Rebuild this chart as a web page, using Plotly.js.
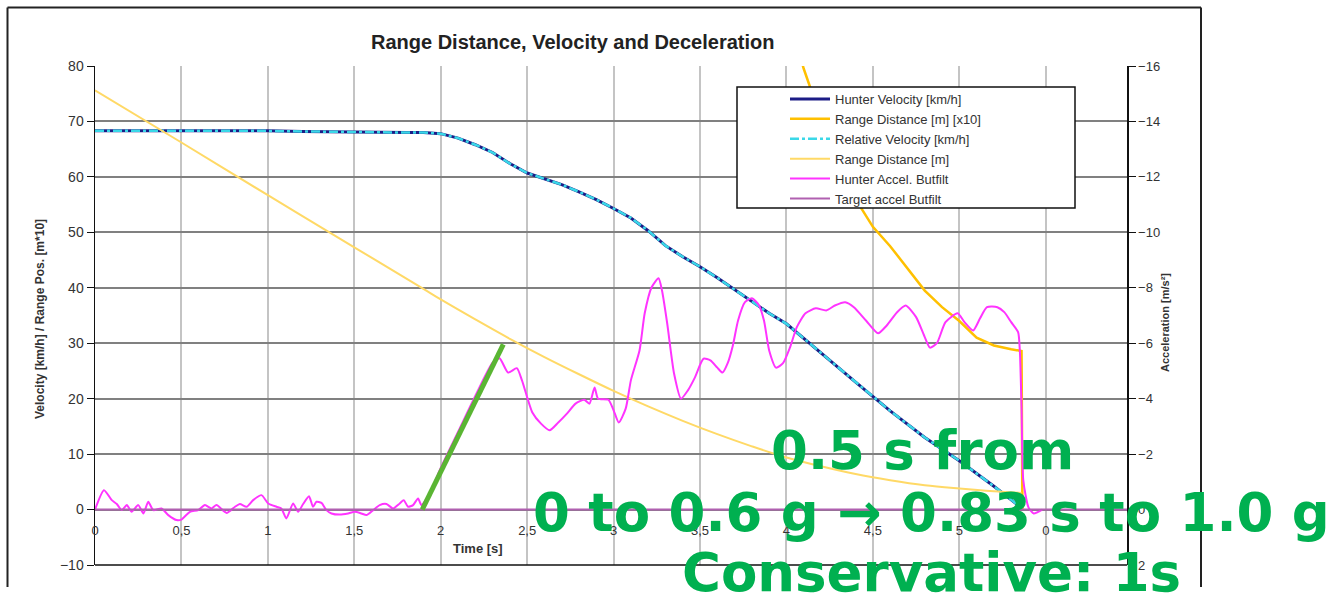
<!DOCTYPE html>
<html><head><meta charset="utf-8">
<script src="https://cdn.plot.ly/plotly-3.0.1.min.js"></script>
<style>html,body{margin:0;padding:0;background:#fff;} #chart{width:1337px;height:600px;}</style>
</head><body><div id="chart"></div>
<script>
// ---- data ----
const velTime = [0,0.2,0.4,0.6,0.8,1.0,1.2,1.4,1.6,1.8,1.9,2.0,2.1,2.2,2.3,2.4,2.5,2.6,2.7,2.8,2.9,3.0,3.1,3.2,3.3,3.4,3.5,3.6,3.7,3.8,3.9,4.0,4.2,4.4,4.6,4.8,5.0,5.2,5.36];
const hunterVelocity = [68.3,68.3,68.4,68.3,68.3,68.3,68.2,68.1,68.0,68.0,68.0,67.8,67.0,65.8,64.4,62.4,60.7,59.6,58.6,57.3,55.9,54.3,52.6,50.3,47.6,45.6,43.8,41.8,39.7,37.5,35.4,33.5,28.2,23.0,17.8,13.0,8.8,4.2,0.3];
const relativeVelocity = [68.3,68.3,68.4,68.3,68.3,68.3,68.2,68.1,68.0,68.0,68.0,67.8,67.0,65.8,64.4,62.4,60.7,59.6,58.6,57.3,55.9,54.3,52.6,50.3,47.6,45.6,43.8,41.8,39.7,37.5,35.4,33.5,28.2,23.0,17.8,13.0,8.8,4.2,0.3];

const rangeTime = [0,0.5,1.0,1.5,1.9,2.0,2.2,2.4,2.6,2.8,3.0,3.2,3.4,3.6,3.8,4.0,4.2,4.4,4.6,4.8,5.0,5.2,5.36];
const rangeDistance = [75.6,66.2,56.7,47.3,39.8,37.9,34.3,30.8,27.5,24.4,21.4,18.6,16.0,13.6,11.4,9.4,7.8,6.4,5.3,4.4,3.8,3.3,3.0];

const rangeX10Time = [4.0,4.1,4.2,4.3,4.4,4.5,4.6,4.7,4.8,4.9,5.0,5.1,5.2,5.3,5.36,5.365];
const rangeDistanceX10 = [90,79.5,70.5,62.5,56,51,47.5,43.5,39.5,36.5,34,31,29.6,28.9,28.6,0];

const accelTime = [0,0.052,0.097,0.126,0.155,0.184,0.212,0.25,0.28,0.308,0.337,0.385,0.424,0.472,0.5,0.549,0.597,0.636,0.674,0.703,0.761,0.81,0.838,0.877,0.915,0.963,1.002,1.05,1.078,1.107,1.146,1.175,1.204,1.238,1.261,1.281,1.31,1.339,1.368,1.416,1.464,1.503,1.541,1.57,1.609,1.647,1.686,1.724,1.763,1.786,1.811,1.84,1.869,1.888,1.93,2.0,2.1,2.2,2.3,2.34,2.39,2.44,2.47,2.53,2.58,2.63,2.68,2.73,2.78,2.83,2.86,2.89,2.91,2.97,3.0,3.03,3.07,3.1,3.15,3.18,3.22,3.26,3.28,3.31,3.35,3.39,3.43,3.47,3.52,3.56,3.6,3.63,3.66,3.69,3.72,3.76,3.8,3.84,3.87,3.9,3.94,3.98,4.02,4.06,4.11,4.17,4.23,4.28,4.34,4.39,4.46,4.53,4.58,4.64,4.69,4.75,4.8,4.83,4.87,4.92,4.99,5.03,5.08,5.12,5.16,5.22,5.26,5.3,5.34,5.35,5.36,5.37,5.4,5.43,5.48];
const hunterAccel = [0,-0.70,-0.34,-0.20,0.02,-0.16,0.08,-0.16,0.14,-0.28,0.02,-0.04,0.20,0.38,0.36,0.08,0.02,-0.16,-0.04,-0.16,0.12,-0.10,-0.20,-0.10,-0.34,-0.52,-0.22,-0.10,-0.04,0.32,-0.22,0.08,-0.20,-0.48,-0.10,-0.28,-0.24,0.02,0.14,0.18,0.14,0.08,0.14,0.20,0.02,-0.16,-0.20,-0.04,-0.22,-0.34,-0.10,-0.16,-0.40,-0.16,-0.50,-1.50,-2.80,-4.10,-5.30,-5.46,-4.94,-5.10,-4.66,-3.50,-3.10,-2.86,-3.14,-3.46,-3.82,-3.96,-3.82,-4.40,-4.00,-3.96,-3.58,-3.14,-3.64,-4.66,-5.74,-7.08,-8.02,-8.34,-7.90,-6.72,-4.90,-4.00,-4.30,-4.76,-5.44,-5.38,-5.12,-4.94,-5.28,-5.92,-6.82,-7.48,-7.62,-7.38,-6.82,-5.74,-5.12,-5.28,-5.84,-6.58,-7.08,-7.26,-7.18,-7.36,-7.48,-7.30,-6.82,-6.36,-6.64,-7.12,-7.36,-6.94,-6.22,-5.84,-6.00,-6.76,-7.08,-6.76,-6.46,-6.90,-7.30,-7.30,-7.12,-6.76,-6.40,-5.74,-3.68,-1.06,-0.08,0.14,0];

const targetTime = [0,1,2,3,4,5,5.97];
const targetAccel = [0,0,0,0,0,0,0];

// green hand-drawn marker (acceleration onset), in m/s²
const rampTime = [1.893,2.362];
const rampAccel = [0,-5.96];

const xTickVals = [0,0.5,1,1.5,2,2.5,3,3.5,4,4.5,5,5.5];
const xTickText = ["0","0,5","1","1,5","2","2,5","3","3,5","4","4,5","5","0"];

const noteLines = ["0.5 s from","0 to 0.6 g \u2192 0.83 s to 1.0 g","Conservative: 1s"];

// ---- chart ----
const AR = '"Liberation Sans", Arial, sans-serif';
const traces = [
  {x: velTime, y: hunterVelocity, name: 'Hunter Velocity [km/h]', mode: 'lines', line: {color: '#1c1c86', width: 3}},
  {x: rangeX10Time, y: rangeDistanceX10, name: 'Range Distance [m] [x10]', mode: 'lines', line: {color: '#FFC000', width: 2.5}},
  {x: velTime, y: relativeVelocity, name: 'Relative Velocity [km/h]', mode: 'lines', line: {color: '#3ad8e8', width: 2.5, dash: 'dashdot'}},
  {x: rangeTime, y: rangeDistance, name: 'Range Distance [m]', mode: 'lines', line: {color: '#FFD966', width: 2, shape: 'spline'}},
  {x: accelTime, y: hunterAccel, name: 'Hunter Accel. Butfilt', mode: 'lines', yaxis: 'y2', line: {color: '#FF33FF', width: 2, shape: 'spline', smoothing: 0.6}},
  {x: targetTime, y: targetAccel, name: 'Target accel Butfilt', mode: 'lines', yaxis: 'y2', line: {color: '#b060b0', width: 2}},
  {x: rampTime, y: rampAccel, mode: 'lines', yaxis: 'y2', showlegend: false, hoverinfo: 'skip', line: {color: '#5AB533', width: 5}}
];

const px = v => (v - 95) / 1032;
const py = v => (565 - v) / 499;

const C = {xanchor: 'center', yanchor: 'middle', showarrow: false, xref: 'paper', yref: 'paper'};
const annotations = [
  Object.assign({text: '<b>Range Distance, Velocity and Deceleration</b>', x: px(572), y: py(42), font: {family: AR, size: 20, color: '#222'}}, C),
  Object.assign({text: '<b>Velocity [km/h] / Range Pos. [m*10]</b>', x: px(40), y: py(319), textangle: -90, font: {family: AR, size: 12, color: '#333'}}, C),
  Object.assign({text: '<b>Acceleration [m/s\u00b2]</b>', x: px(1165), y: py(323), textangle: -90, font: {family: AR, size: 11, color: '#333'}}, C),
  Object.assign({text: '<b>Time [s]</b>', x: px(478), y: py(548), font: {family: AR, size: 13, color: '#333'}}, C)
];
const noteX = [922, 931, 931];
const noteY = [450, 512, 572];
noteLines.forEach((t, i) => annotations.push(Object.assign({
  text: '<b>' + t + '</b>', x: px(noteX[i]), y: py(noteY[i]),
  font: {family: '"DejaVu Sans", Verdana, sans-serif', size: 53, color: '#00B050'}
}, C)));

const shapes = [
  // legend frame
  {type: 'rect', xref: 'paper', yref: 'paper', x0: px(737), x1: px(1075), y0: py(208), y1: py(87), fillcolor: '#fff', line: {color: '#111', width: 1.5}, layer: 'above'},
  // bottom axis line
  {type: 'line', xref: 'paper', yref: 'paper', x0: 0, x1: 1, y0: 0, y1: 0, line: {color: '#111', width: 1.5}},
  // outer frame of the embedded chart
  {type: 'line', xref: 'paper', yref: 'paper', x0: px(7.5), x1: px(7.5), y0: py(587), y1: py(7.5), line: {color: '#222', width: 2}},
  {type: 'line', xref: 'paper', yref: 'paper', x0: px(7.5), x1: px(1201), y0: py(7.5), y1: py(7.5), line: {color: '#222', width: 2}},
  {type: 'line', xref: 'paper', yref: 'paper', x0: px(1201), x1: px(1201), y0: py(587), y1: py(7.5), line: {color: '#222', width: 2}}
];

const layout = {
  width: 1337, height: 600,
  margin: {l: 95, r: 210, t: 66, b: 35, pad: 0, autoexpand: false},
  paper_bgcolor: '#fff', plot_bgcolor: '#fff',
  font: {family: AR, color: '#333'},
  showlegend: true,
  legend: {x: px(785), y: py(84), xanchor: 'left', yanchor: 'top', bgcolor: 'rgba(0,0,0,0)', borderwidth: 0,
           itemwidth: 40, font: {family: AR, size: 13, color: '#333'}, tracegroupgap: 0, traceorder: 'normal'},
  xaxis: {range: [0, 5.97], tickvals: xTickVals, ticktext: xTickText, anchor: 'free', position: py(509),
          showgrid: true, gridcolor: '#c4c4c4', gridwidth: 2, zeroline: false, showline: false, ticks: '',
          ticklabelstandoff: 12, tickfont: {family: AR, size: 13, color: '#333'}},
  yaxis: {range: [-10, 80], tick0: 0, dtick: 10, showgrid: true, gridcolor: '#808080', gridwidth: 2, zeroline: false,
          showline: true, linecolor: '#111', linewidth: 1.5, ticks: 'outside', ticklen: 7, tickcolor: '#111',
          tickfont: {family: AR, size: 14, color: '#333'}},
  yaxis2: {overlaying: 'y', side: 'right', range: [2, -16], tick0: 0, dtick: 2, showgrid: false, zeroline: false,
           showline: true, linecolor: '#111', linewidth: 1.5, ticks: 'outside', ticklen: 7, tickcolor: '#111',
           tickfont: {family: AR, size: 13, color: '#333'}},
  annotations: annotations,
  shapes: shapes
};

Plotly.newPlot('chart', traces, layout, {displayModeBar: false, staticPlot: true});
</script>
</body></html>
